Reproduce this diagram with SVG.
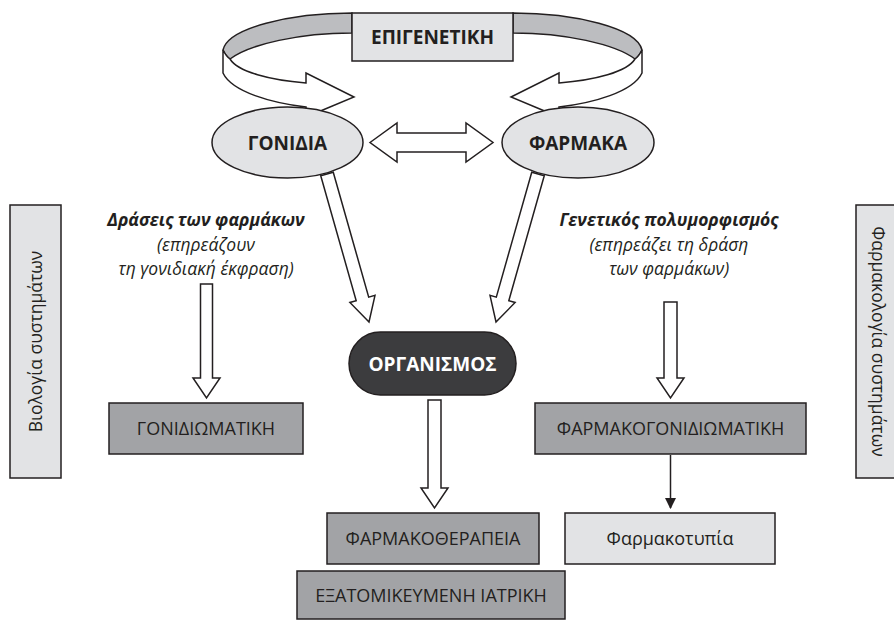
<svg xmlns="http://www.w3.org/2000/svg" xmlns:xlink="http://www.w3.org/1999/xlink" width="894" height="620" viewBox="0 0 894 620">
  <style>
    .ln { stroke: #231f20; stroke-width: 1.5; stroke-linejoin: miter; }
    .light { fill: #e2e3e5; }
    .mid { fill: #a2a3a6; }
    .dark { fill: #3c3c3e; }
    .hollow { fill: #ffffff; stroke: #231f20; stroke-width: 1.5; }
    .t { font-family: "Open Sans", "Noto Sans", "DejaVu Sans", sans-serif; fill: #231f20; text-anchor: middle; }
    .b { font-weight: bold; font-size: 19px; }
    .r { font-size: 18px; }
    .v { font-size: 17.5px; }
    .it { font-style: italic; font-size: 17.5px; }
    .bi { font-style: italic; font-weight: bold; font-size: 17.5px; }
  </style>
  <defs>
    <!-- one half of the looping ribbon: far (grey) surface and near (white) surface ending in an arrowhead -->
    <g id="ribbon">
      <path class="ln" fill="#bcbdc0" d="M352,13 C290,13 228,28 223,50 C225,54 227,57 230,59 C250,44 300,33 352,33 Z"/>
      <path class="hollow" d="M223,50 L223,73 C232,92 272,103 306,107 L306,117 L354,97 L306,73 L306,83 C270,80 238,72 230,59 C227,57 225,54 223,50 Z"/>
    </g>
    <marker id="solidHead" viewBox="0 0 10 10" refX="9" refY="5" markerWidth="11" markerHeight="11" markerUnits="userSpaceOnUse" orient="auto">
      <path d="M0,0 L10,5 L0,10 Z" fill="#231f20"/>
    </marker>
  </defs>

  <g id="connectors">
    <use xlink:href="#ribbon"/>
    <use xlink:href="#ribbon" transform="matrix(-1,0,0,1,865,0)"/>
    <!-- genes <-> drugs -->
    <path class="hollow" d="M370,142.5 L397,123 L397,133 L466,133 L466,123 L493,142.5 L466,162 L466,152 L397,152 L397,162 Z"/>
    <!-- genes -> organism -->
    <path class="hollow" d="M320.75,175.8 L356.2,300.7 L349.9,302.5 L369,322 L375,295.4 L368.7,297.1 L333.25,172.2 Z"/>
    <!-- drugs -> organism -->
    <path class="hollow" d="M544.25,175.8 L508.8,300.7 L515.1,302.5 L496,322 L490,295.4 L496.3,297.1 L531.75,172.2 Z"/>
    <!-- drug actions -> genomics -->
    <path class="hollow" d="M200.5,284 L200.5,378 L193,378 L206.5,398 L220,378 L212.5,378 L212.5,284 Z"/>
    <!-- polymorphism -> pharmacogenomics -->
    <path class="hollow" d="M664,302 L664,378 L657,378 L670.5,398 L684,378 L677,378 L677,302 Z"/>
    <!-- organism -> pharmacotherapy -->
    <path class="hollow" d="M428,400 L428,488 L421,488 L434.5,508 L448,488 L441,488 L441,400 Z"/>
    <!-- pharmacogenomics -> pharmacotypes -->
    <line x1="670.5" y1="455" x2="670.5" y2="508" stroke="#231f20" stroke-width="1.5" marker-end="url(#solidHead)"/>
  </g>

  <g id="epigenetics">
    <rect class="ln light" x="352" y="13" width="161" height="48"/>
    <text class="t b" x="432.5" y="44">ΕΠΙΓΕΝΕΤΙΚΗ</text>
  </g>

  <g id="genes">
    <ellipse class="ln light" cx="287.5" cy="142.5" rx="75.5" ry="35.5"/>
    <text class="t b" x="287.5" y="149.5">ΓΟΝΙΔΙΑ</text>
  </g>

  <g id="drugs">
    <ellipse class="ln light" cx="578" cy="142.5" rx="76" ry="35.5"/>
    <text class="t b" x="578" y="149.5">ΦΑΡΜΑΚΑ</text>
  </g>

  <g id="organism">
    <rect class="ln dark" x="349" y="332" width="167" height="63" rx="31.5" ry="31.5"/>
    <text class="t b" x="432.5" y="370.5" style="fill:#ffffff">ΟΡΓΑΝΙΣΜΟΣ</text>
  </g>

  <g id="drug-actions">
    <text class="t bi" x="206" y="226">Δράσεις των φαρμάκων</text>
    <text class="t it" x="206" y="251">(επηρεάζουν</text>
    <text class="t it" x="206" y="275">τη γονιδιακή έκφραση)</text>
  </g>

  <g id="polymorphism">
    <text class="t bi" x="669" y="226">Γενετικός πολυμορφισμός</text>
    <text class="t it" x="669" y="251">(επηρεάζει τη δράση</text>
    <text class="t it" x="669" y="275">των φαρμάκων)</text>
  </g>

  <g id="systems-biology">
    <rect class="ln light" x="10" y="205" width="51" height="273"/>
    <text class="t v" transform="translate(35.5,341.5) rotate(-90)" y="6">Βιολογία συστημάτων</text>
  </g>

  <g id="systems-pharmacology">
    <rect class="ln light" x="856" y="205" width="45" height="273"/>
    <text class="t v" transform="translate(878,341.5) rotate(90)" y="6">Φαρμακολογία συστημάτων</text>
  </g>

  <g id="genomics">
    <rect class="ln mid" x="109" y="403" width="194" height="51"/>
    <text class="t r" x="206" y="435">ΓΟΝΙΔΙΩΜΑΤΙΚΗ</text>
  </g>

  <g id="pharmacogenomics">
    <rect class="ln mid" x="535" y="403" width="271" height="51"/>
    <text class="t r" x="670.5" y="435">ΦΑΡΜΑΚΟΓΟΝΙΔΙΩΜΑΤΙΚΗ</text>
  </g>

  <g id="pharmacotherapy">
    <rect class="ln mid" x="327" y="513" width="212" height="51"/>
    <text class="t r" x="433" y="545">ΦΑΡΜΑΚΟΘΕΡΑΠΕΙΑ</text>
  </g>

  <g id="pharmacotypes">
    <rect class="ln light" x="565" y="513" width="210" height="51"/>
    <text class="t r" x="670" y="545">Φαρμακοτυπία</text>
  </g>

  <g id="personalised-medicine">
    <rect class="ln mid" x="297" y="571" width="268" height="48"/>
    <text class="t r" x="431" y="601.5">ΕΞΑΤΟΜΙΚΕΥΜΕΝΗ ΙΑΤΡΙΚΗ</text>
  </g>
</svg>
